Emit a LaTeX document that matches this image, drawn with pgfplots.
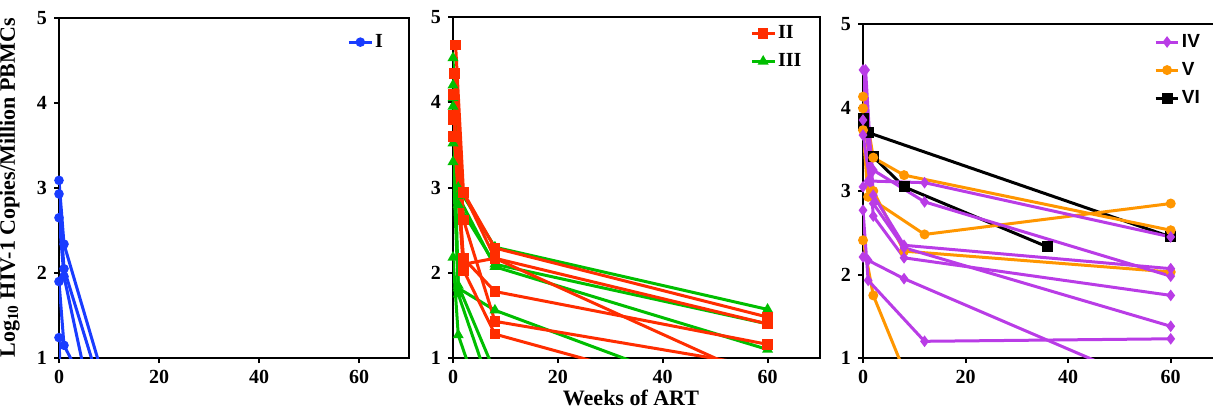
\documentclass[border=0pt]{standalone}
\usepackage{pgfplots}
\pgfplotsset{compat=1.18}
\usepackage{fontspec}
\setmainfont{Liberation Serif}
\newfontfamily\legsans{Liberation Sans}

\definecolor{cI}{RGB}{25,60,255}
\definecolor{cII}{RGB}{255,45,0}
\definecolor{cIII}{RGB}{0,190,0}
\definecolor{cIV}{RGB}{185,60,230}
\definecolor{cV}{RGB}{255,150,0}
\definecolor{cVI}{RGB}{0,0,0}

\pgfplotsset{
  panel/.style={
    scale only axis, anchor=south west,
    xmin=0, xmax=70, ymin=1, ymax=5,
    xtick={0,20,40,60}, ytick={1,2,3,4,5},
    tick align=outside, xtick pos=left, ytick pos=left,
    major tick length=2.5pt,
    axis line style={line width=1pt},
    every tick/.style={black, line width=1pt},
    tick label style={font=\fontsize{10}{12}\selectfont\bfseries},
    /pgf/number format/assume math mode=true,
    label style={font=\fontsize{11}{13}\selectfont\bfseries},
    legend style={draw=none, fill=none, inner sep=0pt,
      font=\fontsize{10}{12}\selectfont\bfseries,
      nodes={inner sep=1pt}, row sep=4pt,
      /tikz/every even column/.append style={column sep=5pt}},
    legend cell align=left,
    legend image code/.code={\draw[#1, mark indices={2}]
      plot coordinates {(0cm,0cm) (0.2cm,0cm) (0.4cm,0cm)};},
  },
  sI/.style={color=cI, line width=1.5pt, mark=*, mark size=1.6pt, mark options={solid}},
  sII/.style={color=cII, line width=1.5pt, mark=square*, mark size=1.9pt, mark options={solid}},
  sIII/.style={color=cIII, line width=1.5pt, mark=triangle*, mark size=1.7pt, mark options={solid}},
  sIV/.style={color=cIV, line width=1.5pt, mark=diamond*, mark size=1.7pt, mark options={solid}},
  sV/.style={color=cV, line width=1.5pt, mark=*, mark size=1.7pt, mark options={solid}},
  sVI/.style={color=cVI, line width=1.5pt, mark=square*, mark size=2pt, mark options={solid}},
}

\begin{document}
\begin{tikzpicture}
\useasboundingbox (0,0) rectangle (606.5pt,204.5pt);

% panel 1
\begin{axis}[panel, at={(29.5pt,25.5pt)}, width=175pt, height=170pt,
  ylabel={Log\textsubscript{10} HIV-1 Copies/Million PBMCs},
  ylabel style={at={(axis description cs:-0.092,0.5)}, anchor=south},
  legend style={at={(axis description cs:0.823,0.929)}, anchor=west}]
\addplot[sI, mark indices={1,2}] coordinates {(0,3.09) (1,2.34) (8,0.94)};
\addlegendentry{I}
\addplot[sI, forget plot, mark indices={1,2}] coordinates {(0,2.93) (1,2.05) (8,0.71)};
\addplot[sI, forget plot, mark indices={1,2}] coordinates {(0,2.65) (1,1.96) (8,0.04)};
\addplot[sI, forget plot, mark indices={1,2}] coordinates {(0,1.90) (1,1.15) (8,0.34)};
\addplot[sI, forget plot, mark indices={1}] coordinates {(0,1.24) (1,-0.50)};
\end{axis}

% panel 2
\begin{axis}[panel, at={(226.5pt,25.5pt)}, width=183.5pt, height=170.5pt,
  xlabel={Weeks of ART},
  xlabel style={at={(axis description cs:0.485,-0.139)}, anchor=base},
  reverse legend,
  legend style={at={(axis description cs:0.809,0.911)}, anchor=west}]
\addplot[sIII] coordinates {(0,4.52) (1,3.00) (8,2.30) (60,1.57)};
\addlegendentry{III}
\addplot[sIII, forget plot] coordinates {(0,4.20) (1,2.90) (8,2.07) (60,1.10)};
\addplot[sIII, forget plot] coordinates {(0,3.52) (1,2.80) (8,2.10) (60,1.40)};
\addplot[sIII, forget plot, mark indices={1,2,3}] coordinates {(0,3.30) (1,1.82) (8,1.56) (60,0.37)};
\addplot[sIII, forget plot, mark indices={1,2}] coordinates {(0,2.18) (1,1.27) (8,0.01)};
\addplot[sIII, forget plot, mark indices={1,2}] coordinates {(0,3.95) (1,1.75) (8,0.49)};
\addplot[sIII, forget plot, mark indices={1,2}] coordinates {(0,4.05) (1,1.85) (8,0.83)};
\addplot[sII] coordinates {(0.5,4.67) (2,2.94) (8,2.29) (60,1.48)};
\addlegendentry{II}
\addplot[sII, forget plot, mark indices={1,2,3}] coordinates {(0.3,4.34) (2,2.62) (8,1.43) (60,0.89)};
\addplot[sII, forget plot, mark indices={1,2,3}] coordinates {(0,4.09) (2,2.10) (8,2.17) (60,0.72)};
\addplot[sII, forget plot] coordinates {(0,3.85) (2,2.17) (8,1.78) (60,1.16)};
\addplot[sII, forget plot, mark indices={1,2,3}] coordinates {(0,3.80) (2,2.03) (8,1.28) (60,0.40)};
\addplot[sII, forget plot] coordinates {(0,3.60) (2,2.94) (8,2.17) (60,1.40)};
\end{axis}

% panel 3
\begin{axis}[panel, at={(431.5pt,25.5pt)}, width=179.5pt, height=167pt,
  reverse legend,
  legend style={at={(axis description cs:0.81,0.862)}, anchor=west,
    font=\fontsize{9.5}{11}\selectfont\bfseries\legsans}]
\addplot[sVI] coordinates {(0,3.87) (1,3.70) (60,2.45)};
\addlegendentry{VI}
\addplot[sVI, forget plot] coordinates {(0,3.78) (2,3.41) (8,3.05) (36,2.33)};
\addplot[sV] coordinates {(0,4.13) (2,3.40) (8,3.19) (60,2.53)};
\addlegendentry{V}
\addplot[sV, forget plot] coordinates {(0,3.99) (2,3.00) (8,2.28) (60,2.03)};
\addplot[sV, forget plot] coordinates {(0,3.73) (1,2.93) (12,2.48) (60,2.85)};
\addplot[sV, forget plot, mark indices={1,2}] coordinates {(0,2.41) (2,1.75) (8,0.85)};
\addplot[sIV] coordinates {(0,4.45) (2,2.70) (8,2.20) (60,1.75)};
\addlegendentry{IV}
\addplot[sIV, forget plot] coordinates {(0.5,4.45) (2,2.95) (8,2.35) (60,2.07)};
\addplot[sIV, forget plot] coordinates {(0,3.85) (2,3.25) (12,2.87) (60,1.98)};
\addplot[sIV, forget plot] coordinates {(0,3.67) (2,2.85) (8,2.32) (60,1.38)};
\addplot[sIV, forget plot] coordinates {(0,3.05) (1,3.12) (12,3.10) (60,2.45)};
\addplot[sIV, forget plot] coordinates {(0,2.77) (1,1.93) (12,1.20) (60,1.23)};
\addplot[sIV, forget plot, mark indices={1,2,3}] coordinates {(0,2.21) (1,2.17) (8,1.95) (60,0.58)};
\end{axis}
\end{tikzpicture}
\end{document}
